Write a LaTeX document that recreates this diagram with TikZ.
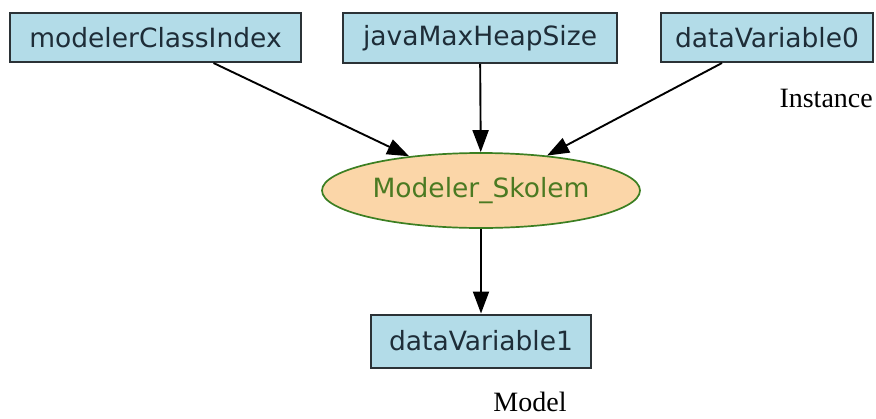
\documentclass[tikz,border=0pt]{standalone}
\usepackage{fontspec}
\setmainfont{Liberation Serif}
\newfontfamily\labelfont{DejaVu Sans}
\usetikzlibrary{shapes.geometric,arrows.meta}
\definecolor{boxfill}{HTML}{B3DCE8}
\definecolor{boxline}{HTML}{2B3236}
\definecolor{boxtext}{HTML}{1E2D38}
\definecolor{ovalfill}{HTML}{FBD6A8}
\definecolor{ovalline}{HTML}{3C7F22}
\definecolor{ovaltext}{HTML}{4B7A22}
\tikzset{
  varbox/.style={draw=boxline, fill=boxfill, line width=2pt, inner sep=0pt,
    font=\labelfont\fontsize{26.5}{29}\selectfont, text=boxtext},
  procnode/.style={ellipse, draw=ovalline, fill=ovalfill, line width=1.7pt, inner sep=0pt,
    minimum width=318pt, minimum height=75pt,
    font=\labelfont\fontsize{26.5}{29}\selectfont, text=ovaltext},
  flow/.style={line width=1.9pt, draw=black, -{Triangle[length=22pt,width=16pt]}},
  caption/.style={font=\fontsize{28}{32}\selectfont, text=black, inner sep=0pt}
}
\begin{document}
\begin{tikzpicture}[x=1pt,y=-1pt]
  \useasboundingbox (0,0) rectangle (876,418);
  % input variables
  \node[varbox, minimum width=291pt, minimum height=49pt] (mci) at (155.5,37.5) {modelerClassIndex};
  \node[varbox, minimum width=274pt, minimum height=50pt] (jmh) at (480,38) {javaMaxHeapSize};
  \node[varbox, minimum width=212pt, minimum height=49pt] (dv0) at (767,37.5) {dataVariable0};
  % modelling step
  \node[procnode] (sk) at (481,190.5) {Modeler\_Skolem};
  % output variable
  \node[varbox, minimum width=220pt, minimum height=53pt] (dv1) at (481,341) {dataVariable1};
  % captions
  \node[caption, anchor=base east] (inst) at (873,107) {Instance};
  \node[caption, anchor=base] (model) at (530,411) {Model};
  % connectors
  \draw[flow] ([xshift=58pt]mci.south) -- (sk);
  \draw[flow] (jmh) -- (sk);
  \draw[flow] ([xshift=-45pt]dv0.south) -- (sk);
  \draw[flow] (sk) -- (dv1);
\end{tikzpicture}
\end{document}
